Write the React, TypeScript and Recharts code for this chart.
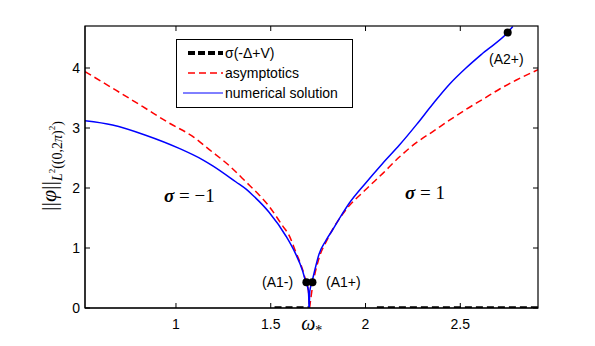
import {
  ComposedChart,
  Line,
  Scatter,
  XAxis,
  YAxis,
} from 'recharts';

const OMEGA_STAR = 1.703;
const X_DOMAIN = [0.52, 2.91];
const Y_DOMAIN = [0, 4.7];

// numerical solution, sigma = -1 branch
const blueLeftX = [0.52, 0.665, 0.84, 1.017, 1.141, 1.194, 1.317, 1.37, 1.405, 1.49, 1.58, 1.63, 1.667, 1.685, 1.698, 1.703];
const blueLeftY = [3.12, 3.05, 2.88, 2.66, 2.47, 2.37, 2.1, 1.98, 1.88, 1.6, 1.2, 0.91, 0.63, 0.43, 0.3, 0];

// numerical solution, sigma = 1 branch
const blueRightX = [1.703, 1.706, 1.715, 1.73, 1.756, 1.79, 1.826, 1.87, 1.914, 2.0, 2.09, 2.18, 2.27, 2.355, 2.443, 2.53, 2.62, 2.75, 2.777];
const blueRightY = [0, 0.28, 0.4, 0.6, 0.91, 1.12, 1.3, 1.53, 1.745, 2.08, 2.41, 2.72, 3.06, 3.4, 3.73, 4.0, 4.25, 4.59, 4.69];

// asymptotics
const redLeftX = [0.52, 0.683, 0.823, 0.965, 1.088, 1.176, 1.282, 1.37, 1.44, 1.49, 1.56, 1.6, 1.63, 1.667, 1.685, 1.698, 1.705];
const redLeftY = [3.94, 3.63, 3.36, 3.08, 2.86, 2.64, 2.37, 2.1, 1.88, 1.7, 1.38, 1.19, 0.95, 0.65, 0.45, 0.3, 0];
const redRightX = [1.705, 1.72, 1.75, 1.8, 1.9, 2.0, 2.09, 2.18, 2.27, 2.355, 2.443, 2.53, 2.62, 2.708, 2.796, 2.91];
const redRightY = [0, 0.35, 0.78, 1.15, 1.65, 1.97, 2.24, 2.52, 2.76, 2.94, 3.13, 3.31, 3.48, 3.65, 3.8, 3.97];

// spectrum sigma(-Delta+V)
const spec1X = [1.52, OMEGA_STAR];
const spec2X = [2.06, 2.91];

// marked points
const markX = [1.688, 1.72, 2.75];
const markY = [0.43, 0.43, 4.59];

const xTicks = [1, 1.5, OMEGA_STAR, 2, 2.5];
const xTopTicks = [1, 1.5, 2, 2.5];
const yTicks = [0, 1, 2, 3, 4];

const zip = (xs: number[], ys: number[]) => xs.map((x, i) => ({ x, y: ys[i] }));

const blueLeft = zip(blueLeftX, blueLeftY);
const blueRight = zip(blueRightX, blueRightY);
const redLeft = zip(redLeftX, redLeftY);
const redRight = zip(redRightX, redRightY);
const spec1 = spec1X.map((x) => ({ x, y: 0 }));
const spec2 = spec2X.map((x) => ({ x, y: 0 }));
const marks = zip(markX, markY);

// chart geometry
const W = 595;
const H = 346;
const MARGIN = { top: 26, right: 57, bottom: 0, left: 0 };
const Y_AXIS_W = 85;
const X_AXIS_H = 38;
const PLOT = {
  left: MARGIN.left + Y_AXIS_W,
  right: W - MARGIN.right,
  top: MARGIN.top,
  bottom: H - MARGIN.bottom - X_AXIS_H,
};
const sx = (v: number) => PLOT.left + ((v - X_DOMAIN[0]) / (X_DOMAIN[1] - X_DOMAIN[0])) * (PLOT.right - PLOT.left);
const sy = (v: number) => PLOT.bottom - ((v - Y_DOMAIN[0]) / (Y_DOMAIN[1] - Y_DOMAIN[0])) * (PLOT.bottom - PLOT.top);

const TICK_FONT = { fontFamily: '"Liberation Sans", Arial, sans-serif', fontSize: 14, fill: '#000' };
const SERIF = '"Liberation Serif", "DejaVu Serif", serif';

function BottomTick({ x, y, payload }: any) {
  if (payload.value === OMEGA_STAR) {
    return (
      <text x={x - 8} y={y + 22} fontFamily={SERIF} fontSize={20} fontStyle="italic" fill="#000">
        ω<tspan fontSize={14} fontStyle="normal" dy={5}>*</tspan>
      </text>
    );
  }
  return (
    <g>
      <line x1={x} x2={x} y1={y} y2={y - 5} stroke="#000" />
      <text x={x} y={y + 21} textAnchor="middle" {...TICK_FONT}>{payload.value}</text>
    </g>
  );
}

function LeftTick({ x, y, payload }: any) {
  return (
    <g>
      <line x1={x} x2={x + 5} y1={y} y2={y} stroke="#000" />
      <text x={x - 5} y={y + 5} textAnchor="end" {...TICK_FONT}>{payload.value}</text>
    </g>
  );
}

// box around the plot, with inward ticks on the top and right edges
function Frame() {
  return (
    <g>
      <rect
        x={PLOT.left}
        y={PLOT.top}
        width={PLOT.right - PLOT.left}
        height={PLOT.bottom - PLOT.top}
        fill="none"
        stroke="#000000"
        strokeWidth={1.2}
      />
      {xTopTicks.map((t) => (
        <line key={`tt${t}`} x1={sx(t)} x2={sx(t)} y1={PLOT.top} y2={PLOT.top + 5} stroke="#000000" strokeWidth={1} />
      ))}
      {yTicks.map((t) => (
        <line key={`rt${t}`} x1={PLOT.right} x2={PLOT.right - 5} y1={sy(t)} y2={sy(t)} stroke="#000000" strokeWidth={1} />
      ))}
    </g>
  );
}

function LegendBox() {
  const font = { fontFamily: '"Liberation Sans", Arial, sans-serif', fontSize: 14, fill: '#000' };
  return (
    <g transform="translate(176,39)">
      <rect x={0.5} y={0.5} width={176} height={68} fill="#fff" stroke="#000" />
      <line x1={12} x2={47} y1={14} y2={14} stroke="#000" strokeWidth={4} strokeDasharray="7 3" />
      <text x={49} y={19} {...font}>σ(-Δ+V)</text>
      <line x1={12} x2={47} y1={34} y2={34} stroke="#ff0000" strokeWidth={1.5} strokeDasharray="7 4" />
      <text x={49} y={39} {...font}>asymptotics</text>
      <line x1={7} x2={47} y1={54} y2={54} stroke="#0000ff" strokeWidth={1} />
      <text x={49} y={59} {...font}>numerical solution</text>
    </g>
  );
}

export default function App() {
  const lineProps = { dataKey: 'y', dot: false, activeDot: false, isAnimationActive: false };
  return (
    <div style={{ position: 'absolute', left: 0, top: 0, width: W, height: H, background: '#fff' }}>
      <ComposedChart width={W} height={H} margin={MARGIN}>
        <XAxis
          dataKey="x"
          type="number"
          domain={X_DOMAIN}
          allowDataOverflow
          ticks={xTicks}
          height={X_AXIS_H}
          tickSize={0}
          tickMargin={0}
          tickLine={false}
          axisLine={{ stroke: '#000' }}
          tick={<BottomTick />}
          interval={0}
        />
        <YAxis
          dataKey="y"
          type="number"
          domain={Y_DOMAIN}
          allowDataOverflow
          ticks={yTicks}
          width={Y_AXIS_W}
          tickSize={0}
          tickMargin={0}
          tickLine={false}
          axisLine={{ stroke: '#000' }}
          tick={<LeftTick />}
          interval={0}
        />
        <Line {...lineProps} type="linear" data={spec1} stroke="#000" strokeWidth={3.5} strokeDasharray="7 4" />
        <Line {...lineProps} type="linear" data={spec2} stroke="#000" strokeWidth={3.5} strokeDasharray="7 4" />
        <Line {...lineProps} type="monotone" data={redLeft} stroke="#ff0000" strokeWidth={1.5} strokeDasharray="7 4" />
        <Line {...lineProps} type="monotone" data={redRight} stroke="#ff0000" strokeWidth={1.5} strokeDasharray="7 4" />
        <Line {...lineProps} type="monotone" data={blueLeft} stroke="#0000ff" strokeWidth={1.5} />
        <Line {...lineProps} type="monotone" data={blueRight} stroke="#0000ff" strokeWidth={1.5} />
        <Scatter
          data={marks}
          dataKey="y"
          isAnimationActive={false}
          shape={(p: any) => <circle cx={p.cx} cy={p.cy} r={4} fill="#000" />}
        />
      </ComposedChart>
      <svg
        width={W}
        height={H}
        style={{ position: 'absolute', left: 0, top: 0, pointerEvents: 'none' }}
      >
        <Frame />
        <LegendBox />
        <text transform="rotate(-90 56 166)" x={56} y={166} textAnchor="middle" fontFamily={SERIF} fill="#000">
          <tspan fontSize={22}>||</tspan>
          <tspan fontSize={22} fontStyle="italic">φ</tspan>
          <tspan fontSize={22}>||</tspan>
          <tspan fontSize={14} fontStyle="italic" dy={6}>L</tspan>
          <tspan fontSize={9} dy={-7}>2</tspan>
          <tspan fontSize={14} dy={7}>((0,2</tspan>
          <tspan fontSize={14} fontStyle="italic">π</tspan>
          <tspan fontSize={14}>)</tspan>
          <tspan fontSize={9} dy={-7}>2</tspan>
          <tspan fontSize={14} dy={7}>)</tspan>
        </text>
        <text x={164} y={202} fontFamily={SERIF} fontSize={19} fill="#000">
          <tspan fontStyle="italic" fontWeight="bold">σ</tspan>  =  −1
        </text>
        <text x={405} y={199} fontFamily={SERIF} fontSize={19} fill="#000">
          <tspan fontStyle="italic" fontWeight="bold">σ</tspan>  =  1
        </text>
        <text x={262} y={287} {...TICK_FONT}>(A1-)</text>
        <text x={326} y={287} {...TICK_FONT}>(A1+)</text>
        <text x={489} y={64} {...TICK_FONT}>(A2+)</text>
      </svg>
    </div>
  );
}
